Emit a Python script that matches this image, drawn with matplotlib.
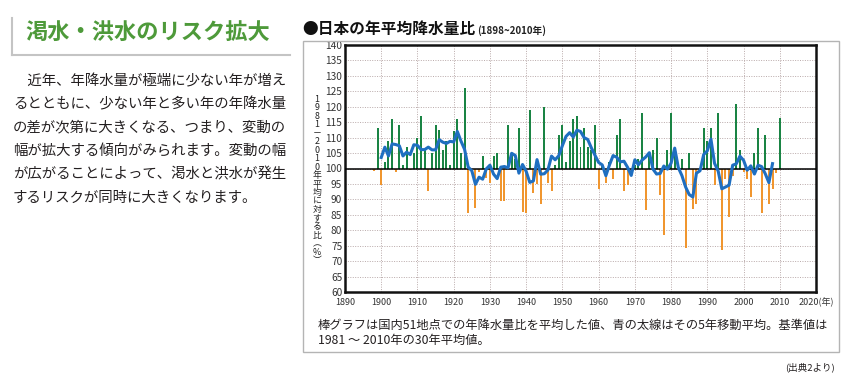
import matplotlib
matplotlib.use("Agg")
import matplotlib.pyplot as plt
import numpy as np
import pandas as pd
from matplotlib.lines import Line2D
from matplotlib.patches import Rectangle

plt.rcParams['font.family'] = ['Noto Sans CJK JP', 'DejaVu Sans']

# ---- data ----
years = list(range(1898, 2011))
ratio = [
    99.3, 113, 94.5, 102, 109, 116, 98.8, 114, 101, 107,      # 1898-1907
    99.5, 105, 110, 117, 106, 92.6, 105, 114, 112.6, 106,     # 1908-1917
    109, 101, 112, 116, 105, 126, 85.5, 98.6, 87.3, 99,       # 1918-1927
    104, 97, 95.4, 104, 105, 89.6, 89.6, 114, 105, 103,       # 1928-1937
    113, 86, 85.5, 119, 92, 95, 88.4, 120, 95.4, 92.7,        # 1938-1947
    101, 111, 114, 102, 109, 116, 117, 107, 113, 107,         # 1948-1957
    106, 114, 93.4, 101, 95.4, 102, 96.5, 111, 116, 92.7,     # 1958-1967
    94.6, 97.5, 101, 103, 118, 86.6, 105, 106, 110, 91.5,     # 1968-1977
    78.5, 106, 118, 105, 101, 103, 74.4, 105, 86.8, 88.6,     # 1978-1987
    99, 113, 109, 113, 94.6, 118, 73.7, 96.5, 84.3, 97.5,     # 1988-1997
    121, 106, 98.8, 96.7, 90.8, 105, 113, 85.5, 111, 88.6,    # 1998-2007
    93.4, 98.6, 116.3,                                        # 2008-2010
]
x_ticks = list(range(1890, 2021, 10))
x_ticklabels = [str(y) for y in x_ticks[:-1]] + ["2020(年)"]
y_ticks = list(range(60, 141, 5))

title_left = "渇水・洪水のリスク拡大"
body_lines = [
    "\u3000近年、年降水量が極端に少ない年が増え",
    "るとともに、少ない年と多い年の年降水量",
    "の差が次第に大きくなる、つまり、変動の",
    "幅が拡大する傾向がみられます。変動の幅",
    "が広がることによって、渇水と洪水が発生",
    "するリスクが同時に大きくなります。",
]
chart_title = "●日本の年平均降水量比"
chart_subtitle = "(1898~2010年)"
ylabel_text = "1981－2010年平均に対する比︵%︶"
note_lines = [
    "棒グラフは国内51地点での年降水量比を平均した値、青の太線はその5年移動平均。基準値は",
    "1981 ～ 2010年の30年平均値。",
]
source = "(出典2より)"

# ---- figure ----
W, H = 850, 380
fig = plt.figure(figsize=(W / 100, H / 100), dpi=100)


def P(x, y):
    return x / W, 1 - y / H


# left panel decoration
fig.add_artist(Line2D([12 / W, 12 / W], [1 - 18 / H, 1 - 55 / H], color="#c4c4c4", lw=1.5))
fig.add_artist(Line2D([12 / W, 290 / W], [1 - 55 / H, 1 - 55 / H], color="#c4c4c4", lw=1.5))
fig.text(*P(25, 32), title_left, fontsize=16, fontweight="bold", color="#4e9a3a", va="center", ha="left")
for i, line in enumerate(body_lines):
    fig.text(*P(13, 81 + i * 23.3), line, fontsize=10.4, color="#231f20", va="center", ha="left")

# chart frame
fig.add_artist(Rectangle(P(303, 352), (839 - 303) / W, (352 - 41) / H, fill=False,
                         edgecolor="#b4b4b4", lw=1.0, transform=fig.transFigure))
fig.text(*P(302, 29), chart_title, fontsize=11.3, fontweight="bold", color="#111111", va="center", ha="left")
fig.text(*P(477, 31), chart_subtitle, fontsize=7, fontweight="bold", color="#222222", va="center", ha="left")

# axes
ax = fig.add_axes([345 / W, 1 - 292 / H, (816 - 345) / W, (292 - 45) / H])
ax.set_xlim(1890, 2020)
ax.set_ylim(60, 140)

vals = np.array(ratio)
yrs = np.array(years)
cols = np.where(vals >= 100, "#1a8444", "#f0962f")
ax.bar(yrs, vals - 100, bottom=100, width=0.55, color=cols, zorder=3)

ma = pd.Series(vals, index=yrs).rolling(5, center=True).mean()
ax.plot(ma.index, ma.values, color="#1f6fc1", lw=2.2, zorder=4)

ax.axhline(100, color="black", lw=1.1, zorder=3.5)

ax.set_xticks(x_ticks)
ax.set_xticklabels(x_ticklabels, fontsize=6.5, color="#333333")
ax.set_yticks(y_ticks)
ax.set_yticklabels([str(v) for v in y_ticks], fontsize=7.3, color="#333333")
ax.tick_params(axis="x", length=0, pad=4)
ax.tick_params(axis="y", length=0, pad=2)
ax.grid(True, color="#b9a9a9", lw=0.7, ls=(0, (1, 1.5)), zorder=0)
for s in ax.spines.values():
    s.set_linewidth(1.8)
    s.set_color("#111111")

fig.text(*P(317, 180), "\n".join(ylabel_text), fontsize=6.4, color="#222222",
         ha="center", va="center", linespacing=0.93)

for i, line in enumerate(note_lines):
    fig.text(*P(318, 325 + i * 15), line, fontsize=8.8, color="#231f20", va="center", ha="left")
fig.text(*P(835, 367), source, fontsize=6.8, color="#231f20", va="center", ha="right")

fig.savefig("out.png", dpi=100)
